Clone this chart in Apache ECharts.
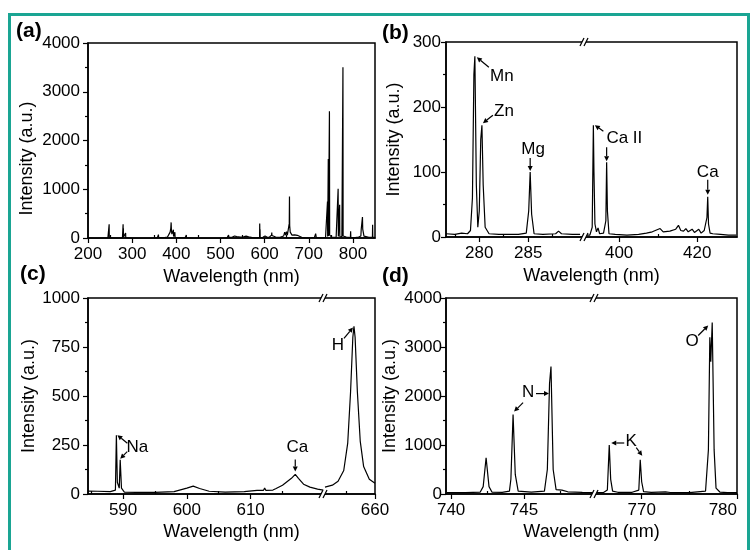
<!DOCTYPE html>
<html><head><meta charset="utf-8">
<script src="https://cdn.jsdelivr.net/npm/echarts@6/dist/echarts.min.js"></script>
<style>html,body{margin:0;padding:0;background:#fff}#c{width:752px;height:550px}</style>
</head><body><div id="c"></div>
<script>
// ---------------- DATA (wavelength nm, intensity a.u.) ----------------
const specA = [[200,0],[215,-10],[230,-5],[245,0],[247.6,5],[247.9,280],[248.2,5],[262,-5],[278,0],[279.2,10],[279.5,280],[279.8,60],[280.1,200],[280.4,20],[280.7,5],[284.9,5],[285.2,100],[285.5,5],[300,-10],[320,-15],[340,-10],[357,0],[359,20],[359.5,70],[360,15],[370,5],[380,20],[384,60],[386,120],[387.5,200],[388.3,320],[389,150],[390,80],[391,40],[393,60],[393.4,170],[393.8,30],[396.4,30],[396.8,120],[397.2,15],[405,10],[420,5],[422.4,5],[422.7,60],[423,5],[440,-10],[460,-15],[480,-15],[500,-10],[515,5],[517,20],[518.3,60],[519.5,10],[527,20],[532,40],[534,50],[537,30],[545,20],[552,25],[558,40],[564,25],[572,10],[580,0],[588.6,10],[588.9,295],[589.3,40],[589.6,180],[590,10],[596,15],[601,40],[606,15],[611,20],[612.2,35],[613.5,25],[615.8,60],[616.2,110],[616.6,50],[625,20],[635,15],[643,40],[645.5,120],[647.5,60],[649.5,130],[651.5,60],[654,90],[655.8,300],[656.3,850],[656.8,250],[658,120],[659.5,80],[662,60],[665,40],[668,65],[671,40],[674,55],[678,30],[685,10],[695,0],[705,5],[713,15],[715.6,90],[717,10],[728,0],[738,10],[741.9,20],[742.4,750],[742.8,30],[743.8,30],[744.2,1620],[744.6,40],[746.2,50],[746.8,2600],[747.3,60],[752,20],[762,15],[766,30],[766.5,1010],[767,30],[769.4,30],[769.9,680],[770.3,30],[775,20],[776.9,40],[777.2,3200],[777.4,3500],[777.8,40],[785,20],[794.3,10],[794.8,140],[795.3,10],[805,10],[813,20],[818,40],[818.8,180],[821,180],[821.6,430],[822.2,180],[824,190],[825,40],[827,20],[836,15],[844.2,20],[844.6,270],[845,20],[850,10]];

const specBLeft = [[276.6,5],[277.5,4],[278.2,6],[278.8,5],[279.1,10],[279.3,60],[279.45,250],[279.55,278],[279.7,80],[279.85,15],[280.0,40],[280.15,150],[280.27,172],[280.4,80],[280.6,15],[281.0,5],[282,4],[283,4],[284,4],[284.8,6],[285.05,40],[285.2,100],[285.35,35],[285.6,5],[286.5,4],[287.8,5],[288.1,9],[288.4,5],[289.5,4],[290.3,4]];
const specBRight = [[391.3,3],[392.5,3],[393.1,15],[393.3,120],[393.4,172],[393.55,100],[393.8,20],[394.2,8],[394.6,14],[395,5],[396,6],[396.6,25],[396.8,115],[397.0,40],[397.4,5],[399,4],[402,3],[405,4],[407,6],[408.5,8],[410.5,13],[411.3,8],[413,9],[414.5,12],[415.2,18],[415.8,10],[416.5,9],[417.1,13],[417.7,8],[418.7,12],[419.3,7],[420.4,12],[421,6],[421.8,10],[422.3,8],[422.5,30],[422.7,62],[422.9,20],[423.3,6],[424,5],[426,4],[428,3],[430,3]];

const specCLeft = [[584.5,15],[586,14],[588,12],[588.8,20],[588.95,300],[589.1,60],[589.4,30],[589.55,175],[589.75,30],[590.2,10],[592,8],[595,8],[598,12],[600,30],[601,40],[602,28],[603.5,14],[606,10],[609,12],[611,18],[612,18],[612.2,30],[612.4,18],[613.5,20],[614,28],[614.2,20],[615,45],[616.4,80],[617,100],[617.5,80],[618.3,50],[619.3,35],[620.5,25],[621.4,20]];
const specCRight = [[651.2,35],[652.5,45],[653.5,65],[654.5,120],[655.2,260],[655.7,520],[656.1,800],[656.3,855],[656.5,800],[656.9,520],[657.4,270],[658,140],[659,75],[660,55]];

const specDLeft = [[739.7,30],[741,30],[742,40],[742.2,150],[742.4,740],[742.6,150],[742.8,40],[743.5,35],[744,60],[744.1,300],[744.25,1620],[744.4,400],[744.6,60],[745.5,40],[746.4,60],[746.6,500],[746.75,2250],[746.85,2600],[747.0,500],[747.2,90],[747.6,80],[748,45],[749,35],[749.8,30]];
const specDRight = [[765,30],[766,30],[766.4,80],[766.6,1000],[766.75,300],[766.95,60],[767.5,35],[769,35],[769.7,80],[769.85,700],[770,250],[770.2,50],[771,35],[772.5,45],[773,30],[775,30],[776.7,60],[777.0,900],[777.15,3200],[777.25,2700],[777.4,3500],[777.6,900],[777.8,120],[778.2,40],[779,30],[780,30]];

// axis ranges & ticks
const aRange=[200,850], bLRange=[276.6,290.7], bRRange=[391,430.2], cLRange=[584.5,621.35], cRRange=[650.85,660], dLRange=[739.65,749.8], dRRange=[765,780];
const aTicks=[200,300,400,500,600,700,800], aMinor=[250,350,450,550,650,750];
const bLTicks=[280,285], bLMinor=[277.5,282.5,287.5];
const bRTicks=[400,420], bRMinor=[410];
const cLTicks=[590,600,610], cLMinor=[585,595,605,615];
const cRTicks=[660], cRMinor=[655];
const dLTicks=[740,745], dLMinor=[742.5,747.5];
const dRTicks=[770,780], dRMinor=[775];
const yA=[0,4000,1000], yB=[0,300,100], yC=[0,1000,250], yD=[0,4000,1000];

// annotations: label, part, anchor (data), text offset, arrows [x1,y1,x2,y2] offsets in px
const notes = [
 {t:'Mn', p:'bL', at:[279.55,278], tx:27, ty:20, ar:[[14,11,2,1]]},
 {t:'Zn', p:'bL', at:[280.27,172], tx:22, ty:-14, ar:[[11,-10,1,-2]]},
 {t:'Mg', p:'bL', at:[285.2,100], tx:3, ty:-23, ar:[[0,-14,0,-1]]},
 {t:'Ca II', p:'bR', at:[393.4,172], tx:31, ty:13, ar:[[10,6,1.5,0]]},
 {t:'', p:'bR', at:[396.8,115], tx:0, ty:0, ar:[[0,-15,0,-1]]},
 {t:'Ca', p:'bR', at:[422.7,62], tx:0, ty:-24, ar:[[0,-17,0,-2]]},
 {t:'Na', p:'cL', at:[588.95,300], tx:21, ty:12, ar:[[11,8,1,0]]},
 {t:'', p:'cL', at:[589.55,175], tx:0, ty:0, ar:[[7,-8,0,-1]]},
 {t:'Ca', p:'cL', at:[617,100], tx:2, ty:-27, ar:[[0,-15,0,-3]]},
 {t:'H', p:'cR', at:[656.3,855], tx:-16, ty:19, ar:[[-10,12,-1,1]]},
 {t:'N', p:'dL', at:[744.25,1620], tx:15, ty:-22, ar:[[10,-12,1,-3]]},
 {t:'', p:'dL', at:[746.85,2600], tx:0, ty:0, ar:[[-15,27,-2,27]]},
 {t:'K', p:'dR', at:[766.6,1000], tx:22, ty:-4, ar:[[15,-2,2,-2]]},
 {t:'', p:'dR', at:[769.85,700], tx:0, ty:0, ar:[[-4,-12,2,-4]]},
 {t:'O', p:'dR', at:[777.4,3500], tx:-20, ty:19, ar:[[-14,13,-4,3]]}
];

// ---------------- LAYOUT ----------------
const FONT = "'Liberation Sans', Arial, sans-serif";
const G = {
 a:{left:88,top:43,width:287,height:195},
 b:{left:446,top:42,width:291,height:195},
 bL:{left:446,top:42,width:138,height:195},
 bR:{left:584,top:42,width:153,height:195},
 c:{left:88,top:298,width:287,height:196},
 cL:{left:88,top:298,width:235,height:196},
 cR:{left:323,top:298,width:52,height:196},
 d:{left:446,top:298,width:291,height:196},
 dL:{left:446,top:298,width:148,height:196},
 dR:{left:594,top:298,width:143,height:196}
};
const grids=[], xAxes=[], yAxes=[], series=[], gi={}, si={}, yi={}, xi={};
function addGrid(k, frame){ gi[k]=grids.length; grids.push(Object.assign({show:!!frame, borderColor:'#000', borderWidth:1.5, backgroundColor:'transparent'}, G[k])); }
const lab = {color:'#000', fontSize:17, fontFamily:FONT, formatter:v=>String(v)};
const nameStyle = {color:'#000', fontSize:18, fontFamily:FONT};
function xMajor(k, r, ticks, withName, gap, alignMax){
  xi[k]=xAxes.length;
  xAxes.push({gridIndex:gi[k], type:'value', min:r[0], max:r[1],
    axisLine:{show:true, onZero:false, lineStyle:{color:'#000', width:1.5}},
    axisTick:{show:true, inside:false, length:5, lineStyle:{color:'#000', width:1.2}, customValues:ticks},
    axisLabel:Object.assign({margin:8, customValues:ticks, showMinLabel:true, showMaxLabel:true, alignMaxLabel:alignMax||null}, lab),
    splitLine:{show:false},
    name: withName ? 'Wavelength (nm)' : '', nameLocation:'middle', nameGap:gap||30, nameTextStyle:nameStyle});
}
function xMinor(k, r, ticks){
  xAxes.push({gridIndex:gi[k], type:'value', min:r[0], max:r[1],
    axisLine:{show:false}, axisLabel:{show:false}, splitLine:{show:false},
    axisTick:{show:true, inside:false, length:3, lineStyle:{color:'#000', width:1.2}, customValues:ticks}});
}
function xName(k, gap){
  xAxes.push({gridIndex:gi[k], type:'value', min:0, max:1, axisLine:{show:false}, axisTick:{show:false}, axisLabel:{show:false}, splitLine:{show:false},
    name:'Wavelength (nm)', nameLocation:'middle', nameGap:gap, nameTextStyle:nameStyle});
}
function yMajor(k, y, gap, margin, pad){
  yi[k]=yAxes.length;
  yAxes.push({gridIndex:gi[k], type:'value', min:y[0], max:y[1], interval:y[2],
    axisLine:{show:true, lineStyle:{color:'#000', width:1.5}},
    axisTick:{show:true, inside:false, length:5, lineStyle:{color:'#000', width:1.2}},
    minorTick:{show:true, splitNumber:2, length:3, lineStyle:{color:'#000', width:1.2}},
    axisLabel:Object.assign({margin:margin}, lab), splitLine:{show:false},
    name:'Intensity (a.u.)', nameLocation:'middle', nameGap:gap, nameTextStyle:Object.assign({padding:pad||0}, nameStyle)});
}
function yHidden(k, y){ yi[k]=yAxes.length; yAxes.push({gridIndex:gi[k], type:'value', min:y[0], max:y[1], show:false}); }
function addSeries(k, data){
  si[k]=series.length;
  series.push({type:'line', xAxisIndex:xi[k], yAxisIndex:yi[k], data:data, showSymbol:false, symbol:'none',
    lineStyle:{color:'#000', width:1.2}, clip:true, animation:false, silent:true});
}

// panel a
addGrid('a', true); xMajor('a', aRange, aTicks, true, 30); xMinor('a', aRange, aMinor); yMajor('a', yA, 52, 8, [0,36,0,0]);
// panel b
addGrid('b', true); addGrid('bL'); addGrid('bR');
xName('b', 30); yMajor('b', yB, 43, 5);
xMajor('bL', bLRange, bLTicks); xMinor('bL', bLRange, bLMinor); yHidden('bL', yB);
xMajor('bR', bRRange, bRTicks); xMinor('bR', bRRange, bRMinor); yHidden('bR', yB);
// panel c
addGrid('c', true); addGrid('cL'); addGrid('cR');
xName('c', 29); yMajor('c', yC, 45, 8);
xMajor('cL', cLRange, cLTicks); xMinor('cL', cLRange, cLMinor); yHidden('cL', yC);
xMajor('cR', cRRange, cRTicks); xMinor('cR', cRRange, cRMinor); yHidden('cR', yC);
// panel d
addGrid('d', true); addGrid('dL'); addGrid('dR');
xName('d', 29); yMajor('d', yD, 47, 4);
xMajor('dL', dLRange, dLTicks); xMinor('dL', dLRange, dLMinor); yHidden('dL', yD);
xMajor('dR', dRRange, dRTicks, false, 30, 'right'); xMinor('dR', dRRange, dRMinor); yHidden('dR', yD);

addSeries('a', specA);
addSeries('bL', specBLeft); addSeries('bR', specBRight);
addSeries('cL', specCLeft); addSeries('cR', specCRight);
addSeries('dL', specDLeft); addSeries('dR', specDRight);

const chart = echarts.init(document.getElementById('c'));
chart.setOption({animation:false, backgroundColor:'#fff', grid:grids, xAxis:xAxes, yAxis:yAxes, series:series});

// ---------------- DECORATIONS ----------------
const gfx = [];
gfx.push({type:'rect', shape:{x:9.5, y:14.5, width:739, height:545}, style:{fill:'none', stroke:'#1aa593', lineWidth:3}, z:100});
[['(a)',16,21],['(b)',382,23],['(c)',20,264],['(d)',382,266]].forEach(p=>{
  gfx.push({type:'text', x:p[1], y:p[2], style:{text:p[0], fill:'#000', font:"bold 21px "+FONT}, z:100});
});
function brk(x, y){
  gfx.push({type:'polygon', shape:{points:[[x-4,y+4],[x,y-4],[x+4,y-4],[x,y+4]]}, style:{fill:'#fff'}, z:101});
  gfx.push({type:'line', shape:{x1:x-4,y1:y+4,x2:x,y2:y-4}, style:{stroke:'#000', lineWidth:1.3}, z:102});
  gfx.push({type:'line', shape:{x1:x,y1:y+4,x2:x+4,y2:y-4}, style:{stroke:'#000', lineWidth:1.3}, z:102});
}
[['bR','b'],['cR','c'],['dR','d']].forEach(([k,o])=>{
  const x=G[k].left, top=G[o].top, bot=G[o].top+G[o].height;
  brk(x, top); brk(x, bot);
});
function arrow(x1,y1,x2,y2){
  const dx=x2-x1, dy=y2-y1, L=Math.hypot(dx,dy), ux=dx/L, uy=dy/L, h=5, w=2.5;
  const bx=x2-ux*h, by=y2-uy*h;
  gfx.push({type:'line', shape:{x1:x1,y1:y1,x2:bx,y2:by}, style:{stroke:'#000', lineWidth:1.2}, z:103});
  gfx.push({type:'polygon', shape:{points:[[x2,y2],[bx-uy*w,by+ux*w],[bx+uy*w,by-ux*w]]}, style:{fill:'#000'}, z:103});
}
notes.forEach(n=>{
  const p = chart.convertToPixel({seriesIndex:si[n.p]}, n.at);
  if(n.t) gfx.push({type:'text', x:p[0]+n.tx, y:p[1]+n.ty, style:{text:n.t, fill:'#000', font:"17px "+FONT, align:'center', verticalAlign:'middle'}, z:103});
  n.ar.forEach(a=>arrow(p[0]+a[0], p[1]+a[1], p[0]+a[2], p[1]+a[3]));
});
chart.setOption({graphic:gfx});
</script></body></html>
